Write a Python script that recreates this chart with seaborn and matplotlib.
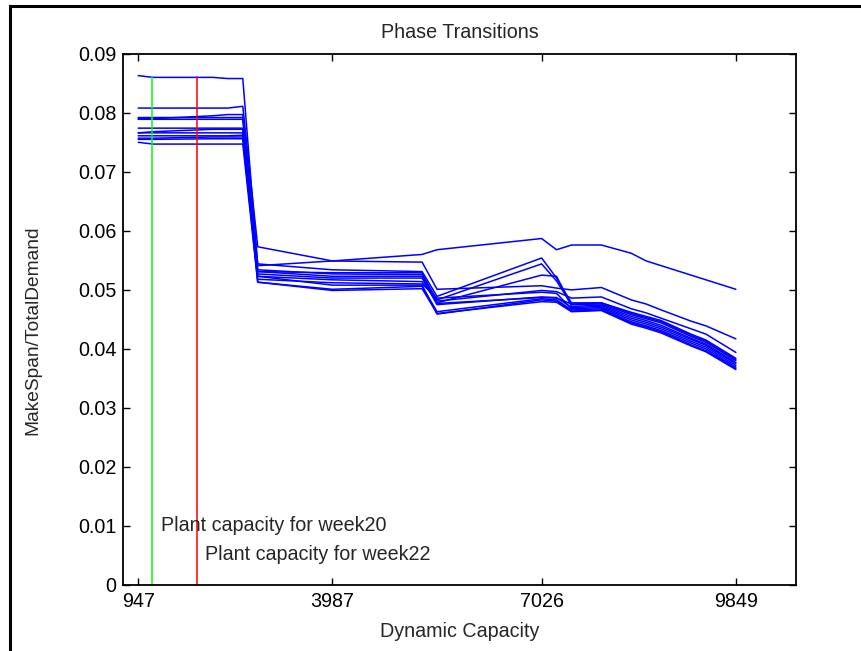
import pandas as pd
import seaborn as sns
import matplotlib.pyplot as plt
from matplotlib.patches import Rectangle

# x positions (capacity step index) where the curves change slope
step_idx = [1, 2, 6, 7, 8, 9, 14, 20, 21, 28, 29, 30, 32, 34, 35, 36, 38, 39, 41]

run01 = [0.0863, 0.0860, 0.0860, 0.0858, 0.0858, 0.0541, 0.0549, 0.0547, 0.0501, 0.0507,
         0.0503, 0.0500, 0.0504, 0.0483, 0.0476, 0.0466, 0.0447, 0.0439, 0.0417]
run02 = [0.0808, 0.0808, 0.0808, 0.0808, 0.0811, 0.0573, 0.0549, 0.0560, 0.0568, 0.0587,
         0.0568, 0.0576, 0.0576, 0.0562, 0.0549, 0.0541, 0.0525, 0.0517, 0.0501]
run03 = [0.0790, 0.0790, 0.0795, 0.0797, 0.0797, 0.0544, 0.0534, 0.0531, 0.0489, 0.0554,
         0.0520, 0.0478, 0.0478, 0.0462, 0.0455, 0.0448, 0.0425, 0.0415, 0.0384]
run04 = [0.0789, 0.0789, 0.0789, 0.0789, 0.0789, 0.0534, 0.0527, 0.0526, 0.0483, 0.0544,
         0.0515, 0.0475, 0.0476, 0.0458, 0.0451, 0.0444, 0.0421, 0.0411, 0.0380]
run05 = [0.0792, 0.0792, 0.0792, 0.0792, 0.0792, 0.0531, 0.0523, 0.0523, 0.0478, 0.0525,
         0.0523, 0.0472, 0.0474, 0.0455, 0.0448, 0.0440, 0.0418, 0.0408, 0.0377]
run06 = [0.0774, 0.0774, 0.0774, 0.0774, 0.0774, 0.0527, 0.0520, 0.0520, 0.0475, 0.0488,
         0.0487, 0.0470, 0.0472, 0.0452, 0.0445, 0.0437, 0.0416, 0.0406, 0.0375]
run07 = [0.0766, 0.0768, 0.0772, 0.0772, 0.0772, 0.0523, 0.0517, 0.0514, 0.0481, 0.0499,
         0.0497, 0.0486, 0.0488, 0.0468, 0.0461, 0.0452, 0.0434, 0.0425, 0.0394]
run08 = [0.0766, 0.0766, 0.0766, 0.0766, 0.0766, 0.0518, 0.0512, 0.0510, 0.0486, 0.0496,
         0.0494, 0.0468, 0.0470, 0.0449, 0.0442, 0.0434, 0.0413, 0.0403, 0.0372]
run09 = [0.0761, 0.0761, 0.0761, 0.0761, 0.0762, 0.0513, 0.0501, 0.0506, 0.0463, 0.0485,
         0.0483, 0.0466, 0.0468, 0.0446, 0.0439, 0.0431, 0.0410, 0.0400, 0.0369]
run10 = [0.0757, 0.0757, 0.0759, 0.0759, 0.0759, 0.0523, 0.0508, 0.0508, 0.0459, 0.0483,
         0.0481, 0.0464, 0.0466, 0.0444, 0.0437, 0.0429, 0.0407, 0.0397, 0.0367]
run11 = [0.0755, 0.0755, 0.0756, 0.0756, 0.0756, 0.0531, 0.0529, 0.0529, 0.0477, 0.0487,
         0.0486, 0.0476, 0.0478, 0.0460, 0.0453, 0.0446, 0.0423, 0.0413, 0.0382]
run12 = [0.0750, 0.0747, 0.0747, 0.0747, 0.0747, 0.0513, 0.0499, 0.0502, 0.0460, 0.0480,
         0.0479, 0.0463, 0.0465, 0.0442, 0.0435, 0.0427, 0.0405, 0.0395, 0.0365]

xtick_pos = [1, 14, 28, 41]
xtick_labels = ["947", "3987", "7026", "9849"]
ytick_vals = [0, 0.01, 0.02, 0.03, 0.04, 0.05, 0.06, 0.07, 0.08, 0.09]
ytick_labels = ["0", "0.01", "0.02", "0.03", "0.04", "0.05", "0.06", "0.07", "0.08", "0.09"]

week20_idx = 1.9
week22_idx = 4.92
marker_top = 0.086


def main():
    runs = [run01, run02, run03, run04, run05, run06,
            run07, run08, run09, run10, run11, run12]
    rows = []
    for i, vals in enumerate(runs):
        for x, y in zip(step_idx, vals):
            rows.append({"run": i, "idx": x, "ratio": y})
    data = pd.DataFrame(rows)

    sns.set_style("ticks")
    plt.rcParams["font.family"] = ["Liberation Sans", "DejaVu Sans"]
    fs = 14.2

    fig = plt.figure(figsize=(8.62, 6.51), dpi=100)
    ax = fig.add_axes([0.143, 0.1014, 0.780, 0.816])

    sns.lineplot(data=data, x="idx", y="ratio", units="run", estimator=None,
                 color="#0000ff", lw=1.1, ax=ax, legend=False)

    ax.plot([week20_idx, week20_idx], [0, marker_top], color="#00ff00", lw=1.1)
    ax.plot([week22_idx, week22_idx], [0, marker_top], color="#ff0000", lw=1.1)
    ax.text(2.5, 0.0100, "Plant capacity for week20", ha="left", va="center", fontsize=fs)
    ax.text(5.5, 0.0052, "Plant capacity for week22", ha="left", va="center", fontsize=fs)

    ax.set_xlim(0, 45)
    ax.set_ylim(0, 0.09)
    ax.set_xticks(xtick_pos)
    ax.set_xticklabels(xtick_labels)
    ax.set_yticks(ytick_vals)
    ax.set_yticklabels(ytick_labels)
    ax.tick_params(direction="in", length=5, width=1, top=True, right=True,
                   labelsize=fs, colors="black", pad=5)
    for s in ax.spines.values():
        s.set_visible(True)
        s.set_linewidth(1.3)
        s.set_color("black")

    ax.set_title("Phase Transitions", fontsize=fs, pad=11)
    ax.set_xlabel("Dynamic Capacity", fontsize=fs, labelpad=8)
    ax.set_ylabel("MakeSpan/TotalDemand", fontsize=13.8)
    ax.yaxis.set_label_coords(-0.122, 0.48)

    # outer frame of the original window
    fig.patches.append(Rectangle((10 / 862, -0.1), 1.2, 1.1 - 6 / 651,
                                 transform=fig.transFigure, fill=False,
                                 edgecolor="black", lw=2.2, clip_on=False))

    fig.savefig("out.png", dpi=100)


if __name__ == "__main__":
    main()
